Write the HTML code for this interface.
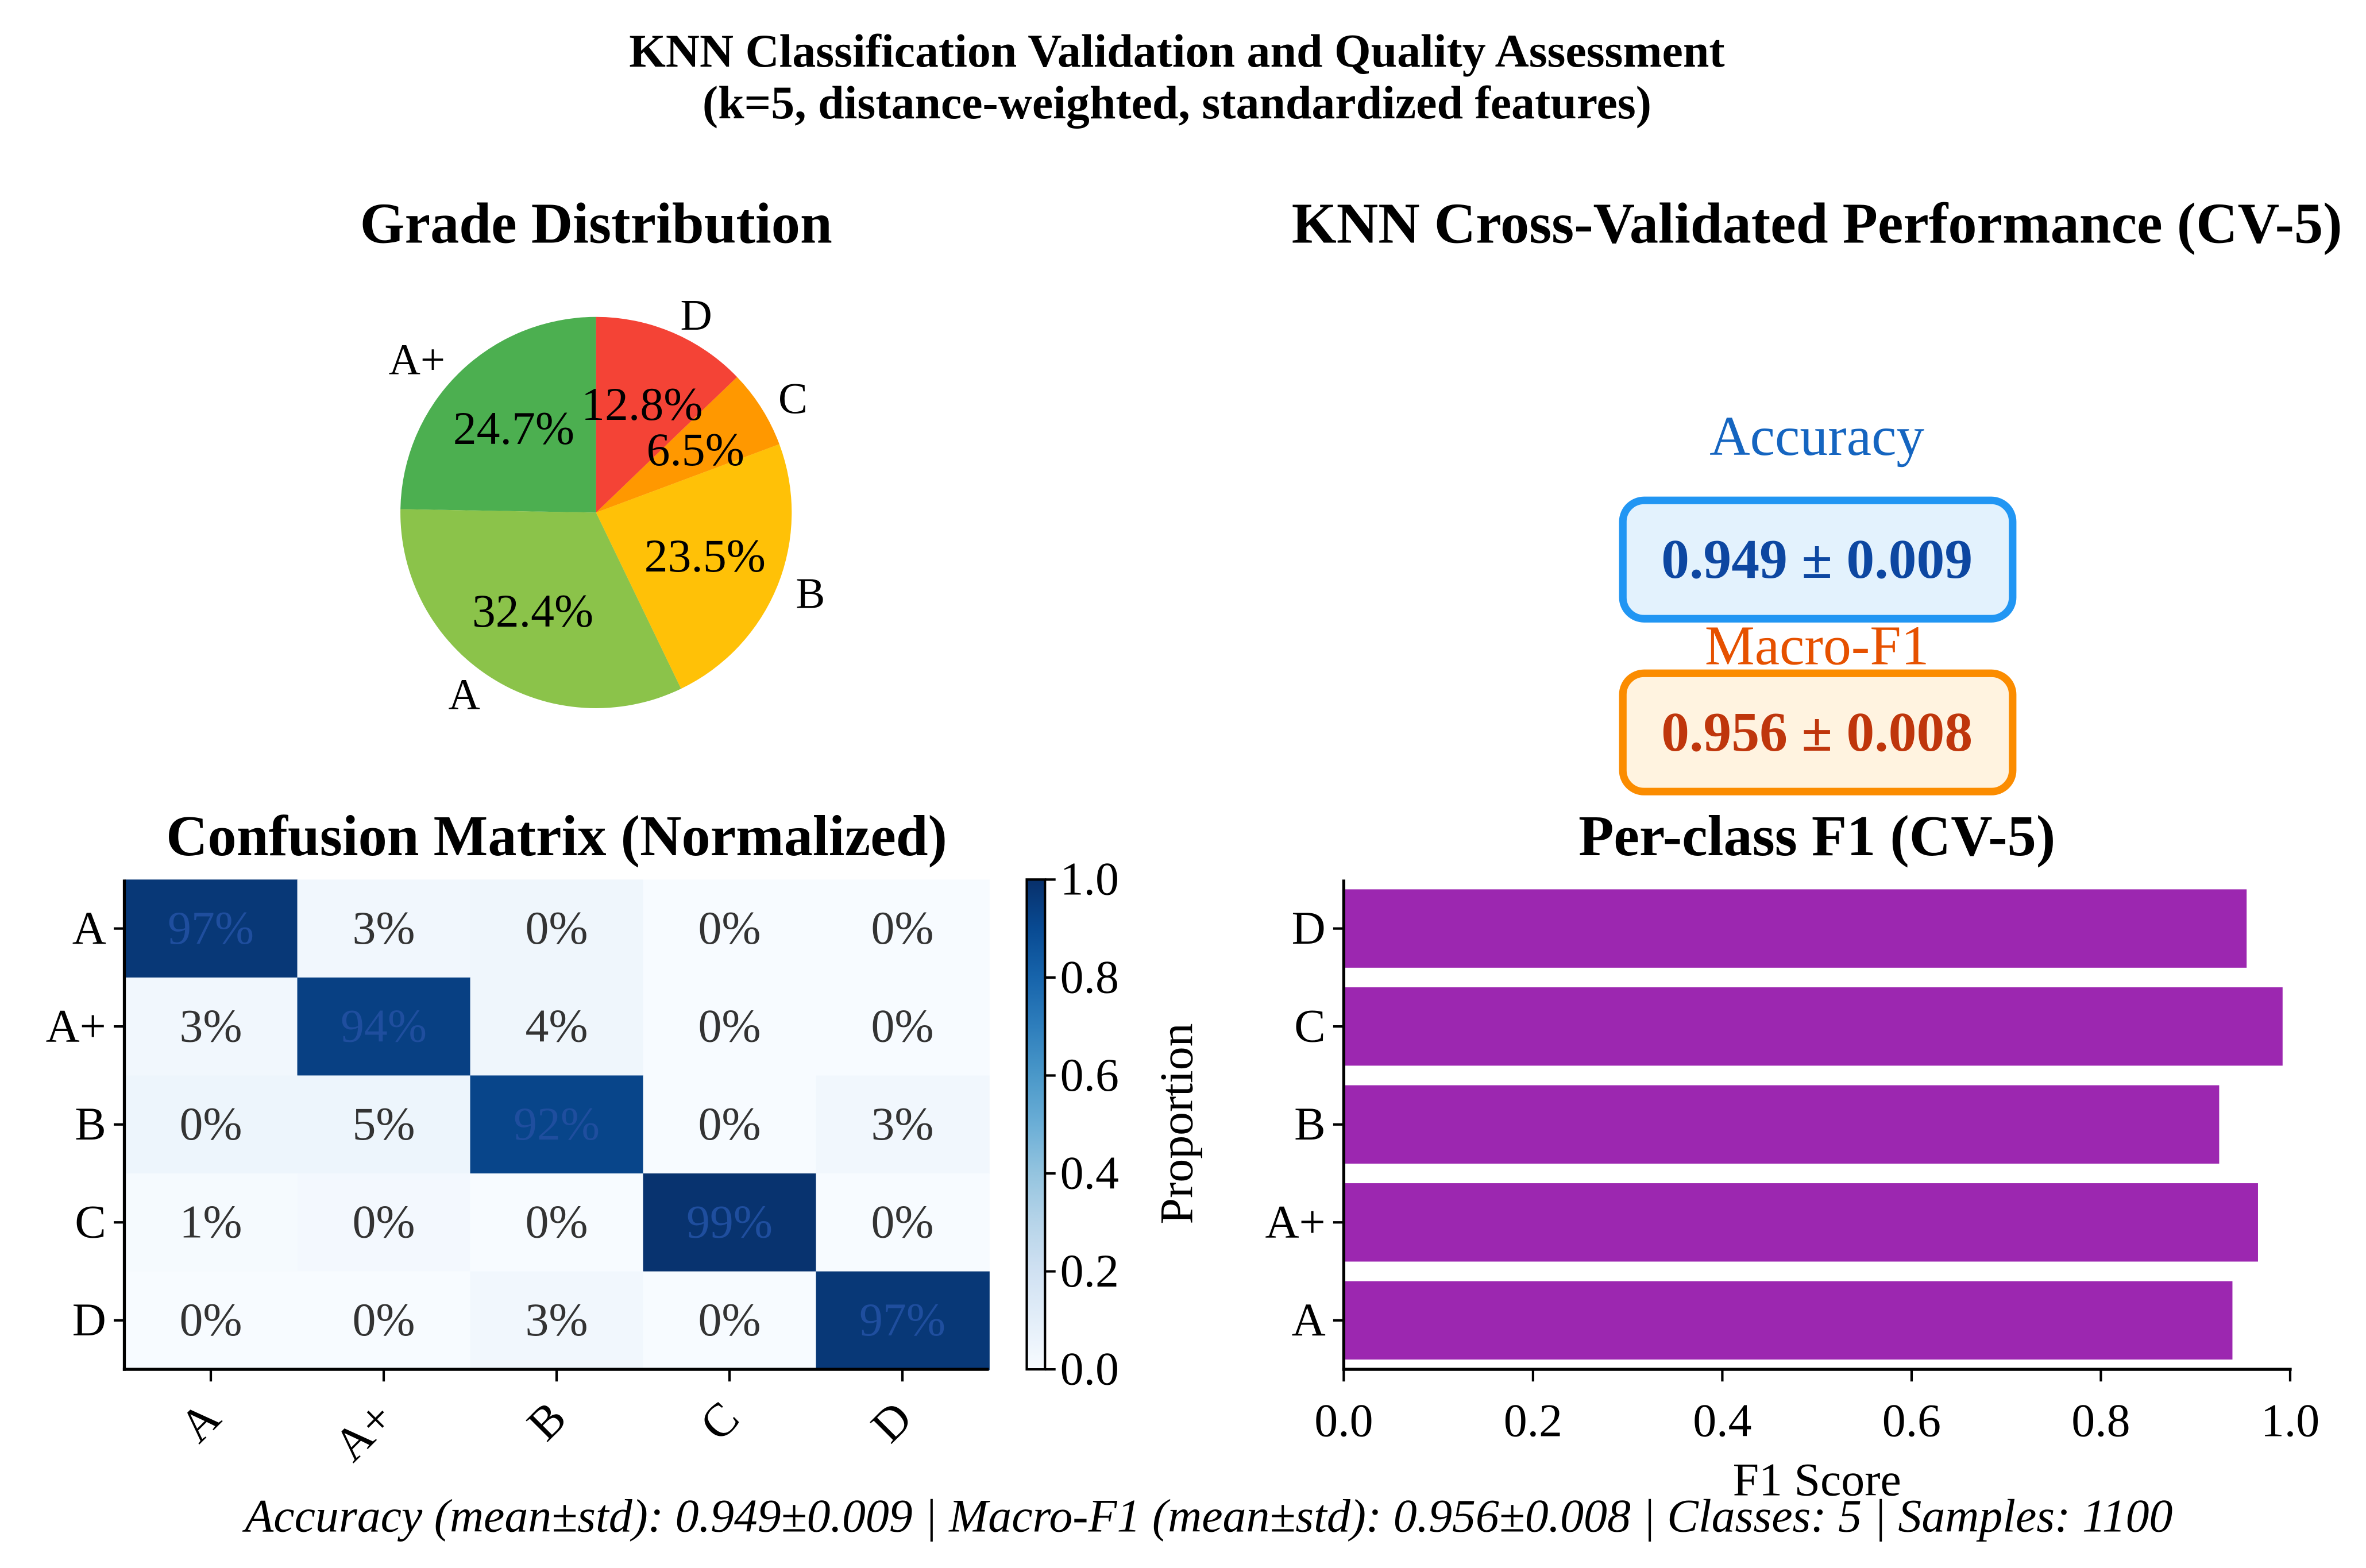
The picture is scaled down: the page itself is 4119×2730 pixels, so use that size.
<!DOCTYPE html>
<html><head><meta charset="utf-8"><style>
html,body{margin:0;padding:0;background:#fff;}
svg{display:block;font-family:"Liberation Serif",serif;}
</style></head><body>
<svg id="fig" width="4119" height="2730" viewBox="0 0 1560 1034" preserveAspectRatio="none" xmlns="http://www.w3.org/2000/svg">
<rect width="1560" height="1034" fill="#fff"/>
<text x="776" y="44" text-anchor="middle" font-weight="bold" font-size="31">KNN Classification Validation and Quality Assessment</text>
<text x="776" y="78" text-anchor="middle" font-weight="bold" font-size="31">(k=5, distance-weighted, standardized features)</text>

<text x="393" y="160" text-anchor="middle" font-weight="bold" font-size="38">Grade Distribution</text>
<g id="pie"></g>

<text x="1198" y="160" text-anchor="middle" font-weight="bold" font-size="38">KNN Cross-Validated Performance (CV-5)</text>
<text x="1198" y="300" text-anchor="middle" font-size="37" fill="#1565C0">Accuracy</text>
<rect x="1070" y="330" width="257" height="78" rx="14" fill="#E3F2FD" stroke="#2196F3" stroke-width="5"/>
<text x="1198" y="381" text-anchor="middle" font-weight="bold" font-size="37" fill="#0D47A1">0.949 ± 0.009</text>
<text x="1198" y="438" text-anchor="middle" font-size="37" fill="#E65100">Macro-F1</text>
<rect x="1070" y="444" width="257" height="78" rx="14" fill="#FFF3E0" stroke="#FB8C00" stroke-width="5"/>
<text x="1198" y="495" text-anchor="middle" font-weight="bold" font-size="37" fill="#BF360C">0.956 ± 0.008</text>

<text x="367" y="564" text-anchor="middle" font-weight="bold" font-size="38">Confusion Matrix (Normalized)</text>
<g id="cm"></g>

<text x="1198" y="564" text-anchor="middle" font-weight="bold" font-size="38">Per-class F1 (CV-5)</text>
<g id="bars"></g>
<text x="1198" y="986" text-anchor="middle" font-size="31">F1 Score</text>

<text x="797" y="1010" text-anchor="middle" font-style="italic" font-size="31">Accuracy (mean±std): 0.949±0.009 | Macro-F1 (mean±std): 0.956±0.008 | Classes: 5 | Samples: 1100</text>
</svg>
<script>
const pieLabels = ["A+","A","B","C","D"];
const pieValues = [24.7,32.4,23.5,6.5,12.8];
const pieColors = ["#4CAF50","#8BC34A","#FFC107","#FF9800","#F44336"];

const cmClasses = ["A","A+","B","C","D"];
const cmValues = [
  [0.97,0.03,0.04,0.00,0.00],
  [0.03,0.94,0.04,0.00,0.00],
  [0.05,0.05,0.92,0.00,0.03],
  [0.01,0.02,0.00,0.99,0.00],
  [0.00,0.00,0.03,0.00,0.97]
];
const cmLabels = [
  ["97%","3%","0%","0%","0%"],
  ["3%","94%","4%","0%","0%"],
  ["0%","5%","92%","0%","3%"],
  ["1%","0%","0%","99%","0%"],
  ["0%","0%","3%","0%","97%"]
];
const cbTicks = [0,0.2,0.4,0.6,0.8,1.0];

const f1Classes = ["A","A+","B","C","D"];
const f1Values = [0.939,0.966,0.925,0.992,0.954];
const f1Ticks = [0,0.2,0.4,0.6,0.8,1.0];

const NS="http://www.w3.org/2000/svg";
const FS=31;
function mk(tag,attrs,parent){const e=document.createElementNS(NS,tag);for(const k in attrs)e.setAttribute(k,attrs[k]);parent.appendChild(e);return e;}

// Pie
(function(){
  const g=document.getElementById('pie');
  const cx=393,cy=338,r=129;
  const total=pieValues.reduce((a,b)=>a+b,0);
  let ang=90;
  pieValues.forEach((v,i)=>{
    const sweep=v/total*360;
    const a0=ang*Math.PI/180,a1=(ang+sweep)*Math.PI/180;
    const x0=cx+r*Math.cos(a0),y0=cy-r*Math.sin(a0),x1=cx+r*Math.cos(a1),y1=cy-r*Math.sin(a1);
    const p=mk('path',{d:`M${cx},${cy} L${x0},${y0} A${r},${r} 0 ${sweep>180?1:0} 0 ${x1},${y1} Z`,fill:pieColors[i]},g);
    
    
    ang+=sweep;
  });
  ang=90;
  pieValues.forEach((v,i)=>{
    const sweep=v/total*360;
    const am=(ang+sweep/2)*Math.PI/180;
    const t=mk('text',{x:cx+0.6*r*Math.cos(am),y:cy-0.6*r*Math.sin(am)+10,'text-anchor':'middle','font-size':FS},g);
    t.textContent=v.toFixed(1)+'%';
    
    
    const lx=cx+1.1*r*Math.cos(am),ly=cy-1.1*r*Math.sin(am)+10;
    const l=mk('text',{x:lx,y:ly,'text-anchor':Math.cos(am)<-0.1?'end':(Math.cos(am)>0.1?'start':'middle'),'font-size':29},g);
    l.textContent=pieLabels[i];
    
    
    ang+=sweep;
  });
})();

const bluesStops=[[247,251,255],[222,235,247],[198,219,239],[158,202,225],[107,174,214],[66,146,198],[33,113,181],[8,81,156],[8,48,107]];
function blues(t){t=Math.max(0,Math.min(1,t));const s=t*(bluesStops.length-1);const i=Math.min(Math.floor(s),bluesStops.length-2);const f=s-i;const a=bluesStops[i],b=bluesStops[i+1];return `rgb(${a.map((c,k)=>Math.round(c+(b[k]-c)*f)).join(',')})`;}

// Confusion matrix
(function(){
  const g=document.getElementById('cm');
  const x0=82,x1=652,y0=580,y1=903,n=cmClasses.length;
  const cw=(x1-x0)/n,ch=(y1-y0)/n;
  cmValues.forEach((row,i)=>row.forEach((v,j)=>{
    const c=mk('rect',{x:x0+j*cw,y:y0+i*ch,width:cw+0.5,height:ch+0.5,fill:blues(v)},g);
    
    
    const t=mk('text',{x:x0+(j+0.5)*cw,y:y0+(i+0.5)*ch+10,'text-anchor':'middle','font-size':FS,fill:v>0.5?'#1f4e9e':'#333'},g);
    t.textContent=cmLabels[i][j];
    
    
  }));
  mk('line',{x1:x0,y1:y0,x2:x0,y2:y1+1,stroke:'#000','stroke-width':2},g);
  mk('line',{x1:x0-1,y1:y1,x2:x1,y2:y1,stroke:'#000','stroke-width':2},g);
  cmClasses.forEach((c,i)=>{
    const y=y0+(i+0.5)*ch;
    mk('line',{x1:x0-7,y1:y,x2:x0,y2:y,stroke:'#000','stroke-width':1.6},g);
    const t=mk('text',{x:x0-12,y:y+10,'text-anchor':'end','font-size':FS},g);t.textContent=c;
    
    
    const x=x0+(i+0.5)*cw;
    mk('line',{x1:x,y1:y1,x2:x,y2:y1+8,stroke:'#000','stroke-width':1.6},g);
    const tx=mk('text',{x:x+8,y:y1+34,'text-anchor':'end','font-size':FS,transform:`rotate(-45 ${x+8} ${y1+34})`},g);tx.textContent=c;
    
    
  });
  const cbx=677,cbw=12;
  const defs=mk('defs',{},g);
  const lg=mk('linearGradient',{id:'cbg',x1:0,y1:1,x2:0,y2:0},defs);
  for(let k=0;k<=10;k++)mk('stop',{offset:k/10,'stop-color':blues(k/10)},lg);
  const cb=mk('rect',{x:cbx,y:y0,width:cbw,height:y1-y0,fill:'url(#cbg)',stroke:'#000','stroke-width':1.6},g);
  
  
  cbTicks.forEach(v=>{
    const y=y1-v*(y1-y0);
    mk('line',{x1:cbx+cbw,y1:y,x2:cbx+cbw+7,y2:y,stroke:'#000','stroke-width':1.6},g);
    const t=mk('text',{x:cbx+cbw+10,y:y+10,'font-size':FS},g);t.textContent=v.toFixed(1);
    
    
  });
  const pl=mk('text',{x:786,y:741,'text-anchor':'middle','font-size':FS,transform:'rotate(-90 786 741)'},g);pl.textContent='Proportion';
  
  
})();

// F1 bars
(function(){
  const g=document.getElementById('bars');
  const x0=886,x1=1510,y0=580,y1=903,n=f1Classes.length;
  const xs=v=>x0+v*(x1-x0);
  const band=(y1-y0)/n;
  f1Values.forEach((v,i)=>{
    const yc=y1-(i+0.5)*band;
    const b=mk('rect',{x:x0,y:yc-0.4*band,width:xs(v)-x0,height:0.8*band,fill:'#9C27B0'},g);
    
    
    mk('line',{x1:x0-7,y1:yc,x2:x0,y2:yc,stroke:'#000','stroke-width':1.6},g);
    const t=mk('text',{x:x0-12,y:yc+10,'text-anchor':'end','font-size':FS},g);t.textContent=f1Classes[i];
    
    
  });
  mk('line',{x1:x0,y1:y0,x2:x0,y2:y1+1,stroke:'#000','stroke-width':2},g);
  mk('line',{x1:x0-1,y1:y1,x2:x1+1,y2:y1,stroke:'#000','stroke-width':2},g);
  f1Ticks.forEach(v=>{
    const x=xs(v);
    mk('line',{x1:x,y1:y1,x2:x,y2:y1+8,stroke:'#000','stroke-width':1.6},g);
    const t=mk('text',{x:x,y:y1+44,'text-anchor':'middle','font-size':FS},g);t.textContent=v.toFixed(1);
    
    
  });
})();
</script>
</body></html>
